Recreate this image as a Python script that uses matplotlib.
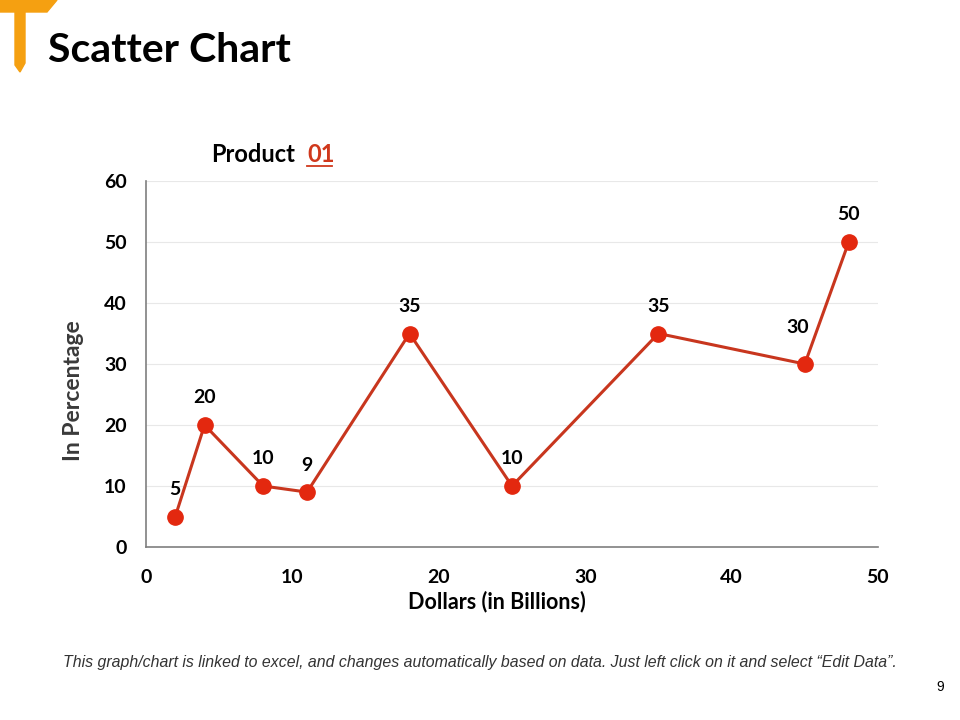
import matplotlib.pyplot as plt
from matplotlib.patches import Polygon

# chart data
dollars = [2, 4, 8, 11, 18, 25, 35, 45, 48]
percent = [5, 20, 10, 9, 35, 10, 35, 30, 50]
x_ticks = [0, 10, 20, 30, 40, 50]
y_ticks = [0, 10, 20, 30, 40, 50, 60]

font = 'Lato'
line_col = '#C8361E'
dot_col = '#E3280F'

fig = plt.figure(figsize=(9.6, 7.2), dpi=100)

# orange "T" logo in the corner
logo_v = Polygon([(15/960, 1), (25/960, 1), (25/960, 1-63/720), (20/960, 1-72/720), (15/960, 1-65/720)],
                 closed=True, transform=fig.transFigure, color='#F5A011')
logo_h = Polygon([(0, 1), (57/960, 1), (47/960, 1-12/720), (0, 1-12/720)],
                 closed=True, transform=fig.transFigure, color='#F5A011')
fig.patches.extend([logo_v, logo_h])

fig.text(48/960, 1-50/720, 'Scatter Chart', fontsize=29.5, fontweight='bold',
         family=font, va='center', ha='left')

ax = fig.add_axes([146/960, 1-547/720, 732/960, 366/720])
ax.plot(dollars, percent, color=line_col, linewidth=2.2, marker='o',
        markersize=11, markerfacecolor=dot_col, markeredgecolor=dot_col, zorder=3)

for x, y in zip(dollars, percent):
    dx, dy = (0, 19.5)
    if y == 30:
        dx, dy = (-5, 26)
    ax.annotate(str(y), (x, y), xytext=(dx, dy), textcoords='offset points',
                ha='center', va='center', fontsize=14, fontweight='bold', family=font)

ax.set_xlim(0, 50)
ax.set_ylim(0, 60)
ax.set_xticks(x_ticks)
ax.set_yticks(y_ticks)
ax.tick_params(length=0, labelsize=14)
ax.tick_params(axis='x', pad=16)
ax.tick_params(axis='y', pad=14)
for lab in ax.get_xticklabels() + ax.get_yticklabels():
    lab.set_fontweight('bold')
    lab.set_family(font)

ax.grid(axis='y', color='#E8E8E8', linewidth=0.8)
ax.set_axisbelow(True)
for s in ['top', 'right']:
    ax.spines[s].set_visible(False)
for s in ['left', 'bottom']:
    ax.spines[s].set_color('#7F7F7F')
    ax.spines[s].set_linewidth(1.2)

ax.set_xlabel('Dollars (in Billions)', fontsize=15.5, fontweight='bold', family=font, va='center')
ax.xaxis.set_label_coords((497-146)/732, -(602-547)/366)
ax.set_ylabel('In Percentage', fontsize=16.5, fontweight='bold', family=font, color='#3A3A3A',
              va='center')
ax.yaxis.set_label_coords((73-146)/732, (547-391)/366)

# series title above the plot
fig.text(211/960, 1-155/720, 'Product', fontsize=17, fontweight='bold', family=font,
         va='center', ha='left')
fig.text(307/960, 1-155/720, '01', fontsize=17, fontweight='bold', family=font,
         va='center', ha='left', color='#D0381C')
fig.lines.append(plt.Line2D([307/960, 332/960], [1-166/720, 1-166/720],
                            transform=fig.transFigure, color='#D0381C', linewidth=1.3))

fig.text(480/960, 1-663/720,
         'This graph/chart is linked to excel, and changes automatically based on data. '
         'Just left click on it and select \u201cEdit Data\u201d.',
         fontsize=11.4, style='italic', family='Liberation Sans', ha='center', va='center',
         color='#333333')
fig.text(940/960, 1-687/720, '9', fontsize=10, family='Liberation Sans', ha='center', va='center')

fig.savefig('out.png', dpi=100)
